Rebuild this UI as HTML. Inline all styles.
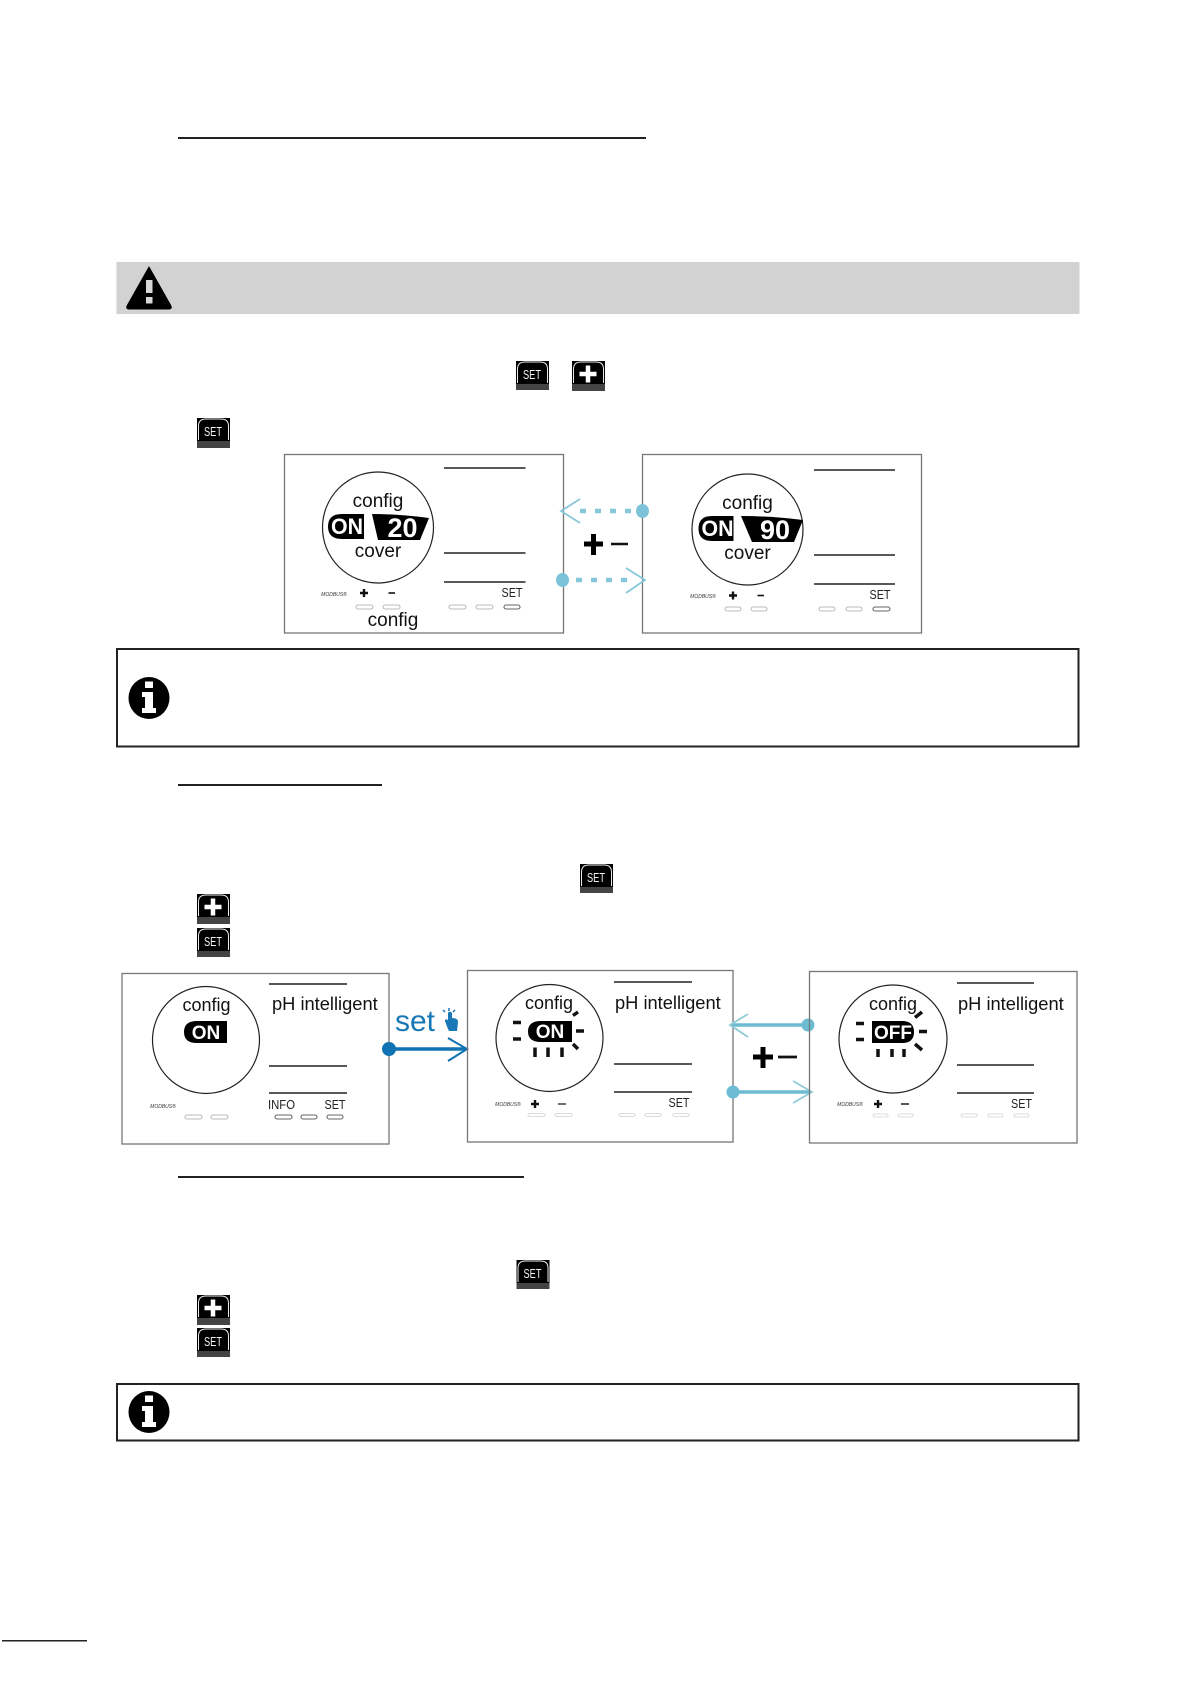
<!DOCTYPE html>
<html><head><meta charset="utf-8"><style>
html,body{margin:0;padding:0;background:#fff}
svg{display:block;filter:blur(.35px)}
text{font-family:"Liberation Sans",sans-serif}
.c{text-anchor:middle}
.t19{font-size:19px;fill:#111}
.t18{font-size:18.3px;fill:#111}
.on{font-weight:bold;fill:#fff;text-anchor:middle}
.mod{font-size:5px;font-style:italic;fill:#333;text-anchor:middle}
.set{font-size:13px;fill:#222;text-anchor:middle}
.p{fill:none;stroke:#777;stroke-width:1.3}
.l{stroke:#222;stroke-width:1.4}
.r{fill:none;stroke:#222;stroke-width:1.2}
.b{fill:none;stroke:#bbb;stroke-width:1.1}
.bd{fill:none;stroke:#666;stroke-width:1.1}
.bf{fill:none;stroke:#ddd;stroke-width:1.1}
.ray{stroke:#111;stroke-width:3.5;fill:none}
.ic{font-size:13px;fill:#f2f2f2;text-anchor:middle}
.pl{stroke:#111;stroke-width:2.4}
.box{fill:#fff;stroke:#222;stroke-width:2}
</style></head><body>
<svg width="1195" height="1688" viewBox="0 0 1195 1688" xmlns="http://www.w3.org/2000/svg">
<rect width="1195" height="1688" fill="#fff"/>

<!-- section rules -->
<rect x="178" y="137" width="468" height="2" fill="#222"/>
<rect x="178" y="784" width="204" height="2" fill="#222"/>
<rect x="178" y="1176" width="346" height="2" fill="#222"/>
<rect x="2" y="1640" width="85" height="1.5" fill="#222"/>

<!-- warning band -->
<rect x="116.500" y="262" width="963" height="52" fill="#d2d2d2"/>
<path d="M149 267 L171 306 Q172 309 169 309 L129 309 Q126 309 127 306 Z" fill="#000" stroke="#000" stroke-linejoin="round"/>
<rect x="146" y="280" width="6.500" height="13" fill="#d8d8d8"/>
<rect x="146" y="297" width="6.500" height="6.500" fill="#d8d8d8"/>

<!-- icons row 1 -->
<g transform="translate(516,361)"><rect width="33" height="23" fill="#000"/><rect y="23" width="33" height="6" fill="#444"/><path d="M1.500 22V8Q1.500 1 9 1H24Q31.500 1 31.500 8V22" fill="none" stroke="#eee" stroke-width="1"/><text x="16" y="18" class="ic" textLength="18" lengthAdjust="spacingAndGlyphs">SET</text></g>
<g transform="translate(572,361)"><rect width="33" height="23" fill="#000"/><rect y="23" width="33" height="7" fill="#444"/><path d="M1.500 22V8Q1.500 1 9 1H24Q31.500 1 31.500 8V22" fill="none" stroke="#eee" stroke-width="1"/><path d="M16 4.500V21.500M7.500 13H24.500" stroke="#fff" stroke-width="4.500"/></g>
<g transform="translate(197,418)"><rect width="33" height="23" fill="#000"/><rect y="23" width="33" height="7" fill="#444"/><path d="M1.500 22V8Q1.500 1 9 1H24Q31.500 1 31.500 8V22" fill="none" stroke="#eee" stroke-width="1"/><text x="16" y="18" class="ic" textLength="18" lengthAdjust="spacingAndGlyphs">SET</text></g>

<!-- first figure: left panel -->
<rect x="284.500" y="454.500" width="279" height="178.500" class="p"/>
<circle cx="378" cy="527.500" r="55.500" class="r"/>
<path d="M444 468H525.500M444 553H525.500M444 582H525.500" class="l"/>
<text x="378" y="507" class="c t19">config</text>
<path d="M364 514H342Q328 514 328 526.500Q328 539 342 539H364Z" fill="#000"/>
<text x="347" y="534" class="on" style="font-size:22px" textLength="32" lengthAdjust="spacingAndGlyphs">ON</text>
<path d="M372 514Q402 514 429 518L420 540H378Z" fill="#000"/>
<text x="402.500" y="537" class="on" style="font-size:27px">20</text>
<text x="378" y="557" class="c t19">cover</text>
<text x="334" y="596" class="mod">MODBUS®</text>
<path d="M360 593H368M364 589V597" class="pl"/><path d="M388.500 593H395" class="pl" style="stroke-width:1.6"/>
<text x="512" y="597" class="set" textLength="21" lengthAdjust="spacingAndGlyphs">SET</text>
<text x="393" y="626" class="c t19">config</text>
<rect x="356" y="605" width="17" height="4" rx="2" class="b"/><rect x="383" y="605" width="17" height="4" rx="2" class="b"/>
<rect x="449" y="605" width="17" height="4" rx="2" class="b"/><rect x="476" y="605" width="17" height="4" rx="2" class="b"/><rect x="504" y="605" width="16" height="4" rx="2" class="bd"/>

<!-- first figure: right panel -->
<rect x="642.500" y="454.500" width="279" height="178.500" class="p"/>
<circle cx="747.500" cy="529.500" r="55.500" class="r"/>
<path d="M814 470H895M814 555H895M814 584H895" class="l"/>
<text x="747.500" y="509" class="c t19">config</text>
<path d="M733.500 516H712Q698.500 516 698.500 528.500Q698.500 541 712 541H733.500Z" fill="#000"/>
<text x="717.500" y="536" class="on" style="font-size:22px" textLength="32" lengthAdjust="spacingAndGlyphs">ON</text>
<path d="M741 516Q772 516 803 520L794 542H752Z" fill="#000"/>
<text x="775" y="539" class="on" style="font-size:27px">90</text>
<text x="747.500" y="559" class="c t19">cover</text>
<text x="703" y="598" class="mod">MODBUS®</text>
<path d="M729 595.500H737M733 591.500V599.500" class="pl"/><path d="M757.500 595.500H764" class="pl" style="stroke-width:1.6"/>
<text x="880" y="599" class="set" textLength="21" lengthAdjust="spacingAndGlyphs">SET</text>
<rect x="725" y="607" width="16" height="4" rx="2" class="b"/><rect x="751" y="607" width="16" height="4" rx="2" class="b"/>
<rect x="819" y="607" width="16" height="4" rx="2" class="b"/><rect x="846" y="607" width="16" height="4" rx="2" class="b"/><rect x="873" y="607" width="17" height="4" rx="2" class="bd"/>

<!-- first figure arrows -->
<g fill="none" stroke="#86c7da">
<path d="M580 499L561 511L580 523" stroke-width="1.800"/>
<path d="M580 511H636" stroke-width="4.500" stroke-dasharray="6 9"/>
<path d="M626 568L645 580L626 593" stroke-width="1.800"/>
<path d="M576 580H628" stroke-width="4.500" stroke-dasharray="6 9"/>
</g>
<ellipse cx="642.500" cy="511" rx="6.500" ry="7" fill="#7cc2d8"/>
<ellipse cx="562.500" cy="580" rx="6.500" ry="7" fill="#7cc2d8"/>
<path d="M584 544H603M593.500 534V555" stroke="#000" stroke-width="5"/>
<path d="M611 544H628" stroke="#111" stroke-width="2.400"/>

<!-- info box 1 -->
<rect x="117" y="649" width="961.500" height="97.500" class="box"/>
<ellipse cx="149" cy="698" rx="20.500" ry="21" fill="#000"/>
<rect x="145" y="681.500" width="8" height="6.500" fill="#fff"/>
<path d="M142 692H153V708H156V713H142V708H145V697H142Z" fill="#fff"/>

<!-- icons row 2 -->
<g transform="translate(580,864)"><rect width="33" height="23" fill="#000"/><rect y="23" width="33" height="6" fill="#444"/><path d="M1.500 22V8Q1.500 1 9 1H24Q31.500 1 31.500 8V22" fill="none" stroke="#eee" stroke-width="1"/><text x="16" y="18" class="ic" textLength="18" lengthAdjust="spacingAndGlyphs">SET</text></g>
<g transform="translate(197,894)"><rect width="33" height="23" fill="#000"/><rect y="23" width="33" height="7" fill="#444"/><path d="M1.500 22V8Q1.500 1 9 1H24Q31.500 1 31.500 8V22" fill="none" stroke="#eee" stroke-width="1"/><path d="M16 4.500V21.500M7.500 13H24.500" stroke="#fff" stroke-width="4.500"/></g>
<g transform="translate(197,928)"><rect width="33" height="23" fill="#000"/><rect y="23" width="33" height="6" fill="#444"/><path d="M1.500 22V8Q1.500 1 9 1H24Q31.500 1 31.500 8V22" fill="none" stroke="#eee" stroke-width="1"/><text x="16" y="18" class="ic" textLength="18" lengthAdjust="spacingAndGlyphs">SET</text></g>

<!-- second figure: panel 1 -->
<rect x="122" y="973.500" width="267" height="170.500" class="p"/>
<circle cx="206" cy="1040" r="53.500" class="r"/>
<path d="M269 984H347M269 1066H347M269 1093H347" class="l"/>
<text x="206.500" y="1011" class="c t18" style="font-size:18px">config</text>
<text x="272" y="1010" class="t18">pH intelligent</text>
<path d="M227 1021H197Q184 1021 184 1032Q184 1043 197 1043H227Z" fill="#000"/>
<text x="206" y="1039" class="on" style="font-size:19px">ON</text>
<text x="163" y="1108" class="mod">MODBUS®</text>
<text x="281.500" y="1109" class="c" style="font-size:13px;fill:#222" textLength="27" lengthAdjust="spacingAndGlyphs">INFO</text>
<text x="335" y="1109" class="set" textLength="21" lengthAdjust="spacingAndGlyphs">SET</text>
<rect x="185" y="1115" width="17" height="4" rx="2" class="b"/><rect x="211" y="1115" width="17" height="4" rx="2" class="b"/>
<rect x="275" y="1115" width="17" height="4" rx="2" class="bd"/><rect x="301" y="1115" width="16" height="4" rx="2" class="bd"/><rect x="327" y="1115" width="16" height="4" rx="2" class="bd"/>

<!-- set arrow -->
<text x="395" y="1031" style="font-size:30px;fill:#1878b6">set</text>
<path d="M445 1021Q445 1018 448 1020L448 1013Q450 1010 452 1013L452 1018Q458 1018 458 1022L457 1031H449Q447 1027 445 1021Z" fill="#1878b6"/>
<path d="M449 1011V1008M445 1012L443 1010M453 1012L455 1010" stroke="#1878b6" stroke-width="1.500"/>
<circle cx="389" cy="1049" r="7" fill="#0f72b2"/>
<path d="M389 1049H466" stroke="#0f72b2" stroke-width="3.500"/>
<path d="M448 1038L467 1049L448 1061" fill="none" stroke="#0f72b2" stroke-width="2"/>

<!-- second figure: panel 2 -->
<rect x="467.500" y="970.500" width="265.500" height="171.500" class="p"/>
<circle cx="549.500" cy="1038" r="53.500" class="r"/>
<path d="M614 982H692M614 1064H692M614 1092H692" class="l"/>
<text x="549" y="1009" class="c t18" style="font-size:18px">config</text>
<text x="615" y="1009" class="t18">pH intelligent</text>
<path d="M572 1021H541Q528 1021 528 1031.500Q528 1042 541 1042H572Z" fill="#000"/>
<text x="550" y="1038" class="on" style="font-size:19px">ON</text>
<path d="M513 1022.500H521M513 1039H521M576 1031H584M573 1015.500L578 1012M573 1044L578 1049M535 1047.500V1057M548 1047.500V1057M562 1047.500V1057" class="ray"/>
<text x="508" y="1106" class="mod">MODBUS®</text>
<path d="M531 1104H539M535 1100V1108" class="pl"/><path d="M558 1104H566" class="pl" style="stroke-width:1.200"/>
<text x="679" y="1107" class="set" textLength="21" lengthAdjust="spacingAndGlyphs">SET</text>
<rect x="528" y="1113.500" width="17" height="3" rx="1.500" class="bf"/><rect x="555" y="1113.500" width="17" height="3" rx="1.500" class="bf"/>
<rect x="619" y="1113.500" width="16" height="3" rx="1.500" class="bf"/><rect x="645" y="1113.500" width="16" height="3" rx="1.500" class="bf"/><rect x="673" y="1113.500" width="16" height="3" rx="1.500" class="bf"/>

<!-- teal arrows -->
<path d="M808 1025H733" stroke="#6dbcd3" stroke-width="3.500"/>
<path d="M748 1014L730 1025L748 1037" fill="none" stroke="#8fcbd9" stroke-width="1.800"/>
<circle cx="808" cy="1025" r="6.500" fill="#6dbcd3"/>
<path d="M733 1092H810" stroke="#6dbcd3" stroke-width="3.500"/>
<path d="M793 1081L812 1092L793 1103" fill="none" stroke="#8fcbd9" stroke-width="1.800"/>
<circle cx="733" cy="1092" r="6.500" fill="#6dbcd3"/>
<path d="M753 1057H773M763 1047V1068" stroke="#000" stroke-width="5"/>
<path d="M778 1057H797" stroke="#111" stroke-width="2.800"/>

<!-- second figure: panel 3 -->
<rect x="809.500" y="971.500" width="267.500" height="171.500" class="p"/>
<circle cx="893" cy="1039" r="54" class="r"/>
<path d="M957 983H1034M957 1065H1034M957 1093H1034" class="l"/>
<text x="893" y="1010" class="c t18" style="font-size:18px">config</text>
<text x="958" y="1010" class="t18">pH intelligent</text>
<path d="M872 1021H902Q914 1021 914 1032Q914 1043 902 1043H872Z" fill="#000"/>
<text x="893" y="1039" class="on" style="font-size:19px">OFF</text>
<path d="M856 1023.500H864M856 1039.500H864M919 1031.500H927M915 1017.500L922 1012M915 1044L922 1050M878 1049V1057M892 1049V1057M904 1049V1057" class="ray"/>
<text x="850" y="1106" class="mod">MODBUS®</text>
<path d="M874 1104H882M878 1100V1108" class="pl"/><path d="M901 1104H909" class="pl" style="stroke-width:1.400"/>
<text x="1021.500" y="1108" class="set" textLength="21" lengthAdjust="spacingAndGlyphs">SET</text>
<rect x="873" y="1114" width="15" height="3" rx="1.500" class="bf"/><rect x="898" y="1114" width="15" height="3" rx="1.500" class="bf"/>
<rect x="961" y="1114" width="16" height="3" rx="1.500" class="bf"/><rect x="988" y="1114" width="15" height="3" rx="1.500" class="bf"/><rect x="1014" y="1114" width="15" height="3" rx="1.500" class="bf"/>

<!-- icons row 3 -->
<g transform="translate(516.500,1260)"><rect width="33" height="23" fill="#000"/><rect y="23" width="33" height="6" fill="#444"/><path d="M1.500 22V8Q1.500 1 9 1H24Q31.500 1 31.500 8V22" fill="none" stroke="#eee" stroke-width="1"/><text x="16" y="18" class="ic" textLength="18" lengthAdjust="spacingAndGlyphs">SET</text></g>
<g transform="translate(197,1295)"><rect width="33" height="23" fill="#000"/><rect y="23" width="33" height="7" fill="#444"/><path d="M1.500 22V8Q1.500 1 9 1H24Q31.500 1 31.500 8V22" fill="none" stroke="#eee" stroke-width="1"/><path d="M16 4.500V21.500M7.500 13H24.500" stroke="#fff" stroke-width="4.500"/></g>
<g transform="translate(197,1328)"><rect width="33" height="23" fill="#000"/><rect y="23" width="33" height="6" fill="#444"/><path d="M1.500 22V8Q1.500 1 9 1H24Q31.500 1 31.500 8V22" fill="none" stroke="#eee" stroke-width="1"/><text x="16" y="18" class="ic" textLength="18" lengthAdjust="spacingAndGlyphs">SET</text></g>

<!-- info box 2 -->
<rect x="117" y="1384" width="961.500" height="56.500" class="box"/>
<ellipse cx="149" cy="1412" rx="20.500" ry="21" fill="#000"/>
<rect x="145" y="1395.500" width="8" height="6.500" fill="#fff"/>
<path d="M142 1406H153V1422H156V1427H142V1422H145V1411H142Z" fill="#fff"/>
</svg>
</body></html>
